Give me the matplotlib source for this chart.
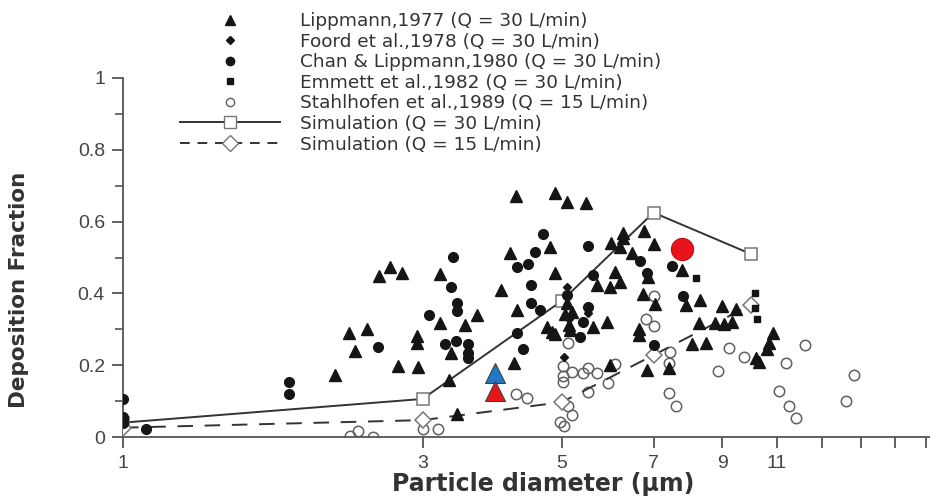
import matplotlib
matplotlib.use("Agg")
import matplotlib.pyplot as plt
from matplotlib.lines import Line2D

plt.rcParams['font.family'] = ['Liberation Sans', 'DejaVu Sans']

# ---------------- data ----------------
lipp_x = [2.18, 2.29, 2.34, 2.45, 2.56, 2.66, 2.78, 2.74, 2.94, 2.94, 2.95, 3.2, 3.2, 3.31, 3.33, 3.41,
          3.51, 3.67, 4.0, 4.13, 4.19, 4.22, 4.25, 4.74, 4.78, 4.83, 4.88, 4.88, 4.88, 5.06, 5.1, 5.1,
          5.14, 5.16, 5.2, 5.47, 5.6, 5.7, 5.9, 5.97, 5.97, 6.0, 6.08, 6.2, 6.2, 6.26, 6.26, 6.48,
          6.64, 6.64, 6.74, 6.77, 6.87, 6.84, 7.0, 7.05, 7.4, 7.78, 7.9, 8.06, 8.3, 8.28, 8.5, 8.78,
          9.0, 9.05, 9.35, 9.46, 10.2, 10.3, 10.6, 10.7, 10.85]
lipp_y = [0.173, 0.29, 0.24, 0.30, 0.448, 0.474, 0.457, 0.198, 0.281, 0.262, 0.195, 0.454, 0.317, 0.159,
          0.234, 0.064, 0.312, 0.34, 0.409, 0.513, 0.206, 0.671, 0.353, 0.306, 0.529, 0.292, 0.287, 0.68,
          0.457, 0.343, 0.655, 0.373, 0.312, 0.298, 0.348, 0.652, 0.306, 0.423, 0.32, 0.418, 0.2, 0.54,
          0.46, 0.432, 0.529, 0.568, 0.554, 0.513, 0.30, 0.284, 0.398, 0.574, 0.446, 0.187, 0.538, 0.37,
          0.192, 0.465, 0.368, 0.259, 0.382, 0.318, 0.262, 0.318, 0.365, 0.315, 0.32, 0.356, 0.22, 0.209,
          0.245, 0.262, 0.29]

foord_x = [5.05, 5.1, 5.14, 5.5, 6.64]
foord_y = [0.222, 0.418, 0.33, 0.345, 0.29]

chan_x = [1.0, 1.0, 1.0, 1.0, 1.09, 1.84, 1.84, 2.55, 3.07, 3.26, 3.33, 3.35, 3.39, 3.41, 3.41, 3.54,
          3.54, 3.55, 4.25, 4.25, 4.34, 4.42, 4.46, 4.47, 4.54, 4.62, 4.66, 5.1, 5.35, 5.41, 5.5, 5.5,
          5.6, 6.67, 6.84, 7.0, 7.5, 7.8]
chan_y = [0.106, 0.057, 0.048, 0.04, 0.022, 0.153, 0.12, 0.251, 0.34, 0.259, 0.418, 0.501, 0.267, 0.373,
          0.351, 0.234, 0.22, 0.259, 0.473, 0.29, 0.245, 0.482, 0.423, 0.373, 0.515, 0.354, 0.565, 0.395,
          0.279, 0.32, 0.532, 0.362, 0.451, 0.49, 0.457, 0.256, 0.476, 0.393]

emmett_x = [8.18, 10.16, 10.16, 10.23]
emmett_y = [0.443, 0.40, 0.36, 0.33]

stahl_x = [1.0, 2.3, 2.37, 2.5, 3.0, 3.18, 4.22, 4.4, 4.97, 5.05, 5.12, 5.2, 5.03, 5.03, 5.03, 5.12,
           5.2, 5.41, 5.5, 5.7, 6.08, 5.93, 5.5, 7.0, 6.8, 7.0, 7.45, 7.4, 7.4, 7.6, 8.88, 9.25, 9.74,
           11.1, 11.4, 11.5, 11.8, 12.2, 14.2, 14.6]
stahl_y = [0.03, 0.003, 0.018, 0.0, 0.022, 0.022, 0.12, 0.11, 0.042, 0.031, 0.086, 0.061, 0.198, 0.17,
           0.153, 0.262, 0.181, 0.178, 0.192, 0.178, 0.203, 0.15, 0.125, 0.393, 0.33, 0.31, 0.237, 0.206,
           0.123, 0.086, 0.184, 0.248, 0.223, 0.128, 0.206, 0.086, 0.053, 0.256, 0.10, 0.173]

sim_x = [1, 3, 5, 7, 10]
sim30_y = [0.04, 0.106, 0.379, 0.625, 0.51]
sim15_y = [0.026, 0.047, 0.097, 0.228, 0.368]

blue_tri = (3.92, 0.178)
red_tri = (3.92, 0.128)
red_circ = (7.78, 0.525)

labels = ["Lippmann,1977 (Q = 30 L/min)",
          "Foord et al.,1978 (Q = 30 L/min)",
          "Chan & Lippmann,1980 (Q = 30 L/min)",
          "Emmett et al.,1982 (Q = 30 L/min)",
          "Stahlhofen et al.,1989 (Q = 15 L/min)",
          "Simulation (Q = 30 L/min)",
          "Simulation (Q = 15 L/min)"]

xticks = [1, 3, 5, 7, 9, 11, 13, 15, 17, 19]
xticklabels = ["1", "3", "5", "7", "9", "11", "", "", "", ""]
yticks = [0, 0.2, 0.4, 0.6, 0.8, 1.0]
yticklabels = ["0", "0.2", "0.4", "0.6", "0.8", "1"]

# ---------------- figure ----------------
fig = plt.figure(figsize=(9.3, 5.0), dpi=100)
ax = fig.add_axes([123/930, 1-437/500, 1-123/930, (437-78)/500])
ax.set_xscale('log')
ax.set_xlim(1.0, 19.3)
ax.set_ylim(0, 1.0)

blk = '#151515'
ax.plot(stahl_x, stahl_y, 'o', ms=7.5, mfc='none', mec='#606060', mew=1.1, zorder=2)
ax.plot(sim_x, sim30_y, '-', color='#333333', lw=1.4, marker='s', ms=9,
        mfc='white', mec='#777777', mew=1.1, zorder=3)
ax.plot(sim_x, sim15_y, color='#333333', lw=1.4, ls=(0, (8, 6)), marker='D', ms=8,
        mfc='white', mec='#777777', mew=1.1, zorder=3)
ax.plot(lipp_x, lipp_y, '^', ms=8, color=blk, mec=blk, zorder=4)
ax.plot(chan_x, chan_y, 'o', ms=7, color=blk, mec=blk, zorder=4)
ax.plot(foord_x, foord_y, 'D', ms=4.5, color=blk, zorder=4)
ax.plot(emmett_x, emmett_y, 's', ms=5, color=blk, zorder=4)

ax.plot([blue_tri[0]], [blue_tri[1]], '^', ms=15, color='#1f78c8', mec='#404040', mew=0.8, zorder=6)
ax.plot([red_tri[0]], [red_tri[1]], '^', ms=15, color='#e8141c', mec='#404040', mew=0.8, zorder=6)
ax.plot([red_circ[0]], [red_circ[1]], 'o', ms=16, color='#e8141c', mec='#c01010', mew=0.8, zorder=6)

# legend handles
lh = [Line2D([], [], ls='none', marker='^', ms=6.5, color=blk),
      Line2D([], [], ls='none', marker='D', ms=4, color=blk),
      Line2D([], [], ls='none', marker='o', ms=6, color=blk),
      Line2D([], [], ls='none', marker='s', ms=4, color=blk),
      Line2D([], [], ls='none', marker='o', ms=6, mfc='none', mec='#606060', mew=1.0),
      Line2D([], [], color='#333333', lw=1.4, marker='s', ms=8, mfc='white', mec='#777777'),
      Line2D([], [], color='#333333', lw=1.4, ls=(0, (5, 4)), marker='D', ms=8, mfc='white', mec='#777777')]
leg = fig.legend(lh, labels, loc='upper left', bbox_to_anchor=(180/930, 1-12/500), frameon=False,
                 prop={'family': 'DejaVu Sans', 'size': 13.3},
                 handlelength=5.4, handletextpad=1.08, labelspacing=0.14,
                 borderaxespad=0, borderpad=0)
for t in leg.get_texts():
    t.set_color('#333333')

# axes styling
for s in ['top', 'right']:
    ax.spines[s].set_visible(False)
for s in ['left', 'bottom']:
    ax.spines[s].set_color('#555555')
    ax.spines[s].set_linewidth(1.3)

ax.set_xticks(xticks)
ax.set_xticklabels(xticklabels)
ax.xaxis.set_minor_locator(matplotlib.ticker.NullLocator())
ax.set_yticks(yticks)
ax.set_yticklabels(yticklabels)
ax.set_yticks([0.1, 0.3, 0.5, 0.7, 0.9], minor=True)
ax.tick_params(axis='both', which='major', direction='out', length=8, width=1.3,
               color='#555555', labelsize=14, labelcolor='#444444')
ax.tick_params(axis='y', which='minor', direction='out', length=6, width=1.2, color='#555555')
ax.tick_params(axis='x', which='major', pad=5)
ax.tick_params(axis='y', which='major', pad=5)

fig.text(0.02, 0.42, "Deposition Fraction", rotation=90, ha='center', va='center',
         fontsize=15.5, fontweight='bold', color='#333333', family='DejaVu Sans')
fig.text(0.584, 0.032, "Particle diameter (\u03bcm)", ha='center', va='center',
         fontsize=17, fontweight='bold', color='#333333', family='DejaVu Sans')

fig.savefig("out.png", dpi=100)
